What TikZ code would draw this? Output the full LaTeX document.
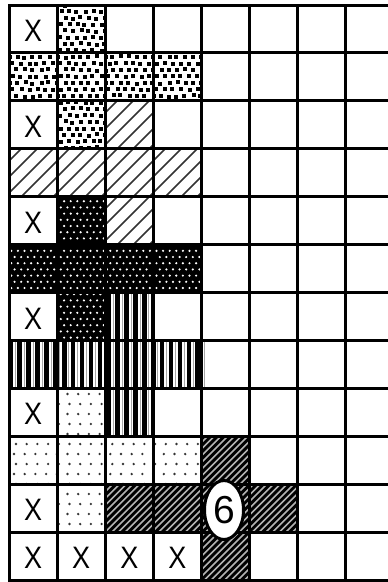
\documentclass[tikz,border=0pt]{standalone}
\usepackage{fontspec}
\setmainfont{Liberation Sans}
\usetikzlibrary{shapes.geometric}
\newcommand\cellrect[2]{({cx(#2-1)},{ry(#1-1)}) rectangle ({cx(#2)},{ry(#1)})}
\begin{document}
\begin{tikzpicture}[x=1pt,y=-1pt,
  declare function={cx(\i)=9+48.1*\i; ry(\j)=5+47.92*\j;},
  gridline/.style={line width=3pt,line cap=rect},
  xmark/.style={font=\fontsize{31}{31}\selectfont,xscale=0.87,inner sep=0pt},
  sixmark/.style={ellipse,draw,line width=3pt,fill=white,minimum width=39pt,minimum height=59pt,inner sep=0pt,font=\fontsize{39}{39}\selectfont}]
\useasboundingbox (0,0) rectangle (388,582);
\fill[white] (0,0) rectangle (388,582);
\pgfmathsetseed{7}
% Pattern A: dense square stipple
\begin{scope}
\clip \cellrect{1}{2} \cellrect{2}{1} \cellrect{2}{2} \cellrect{2}{3} \cellrect{2}{4} \cellrect{3}{2};
\foreach \r in {0,...,23}{
  \foreach \c in {0,...,25}{
    \fill ({7+8*\c+4*mod(\r,2)+1.0*rand},{3+6.5*\r+0.8*rand}) rectangle ++(4,4);
  }
}
\end{scope}
% Pattern B: light diagonal hatch
\begin{scope}
\clip \cellrect{3}{3} \cellrect{4}{1} \cellrect{4}{2} \cellrect{4}{3} \cellrect{4}{4} \cellrect{5}{3};
\foreach \c in {-160,-144,...,220}{
  \draw[line width=1.6pt,black!80] (\c,250) -- ++(260,-260);
}
\end{scope}
% Pattern C: black with white dots
\begin{scope}
\clip \cellrect{5}{2} \cellrect{6}{1} \cellrect{6}{2} \cellrect{6}{3} \cellrect{6}{4} \cellrect{7}{2};
\fill[black] (0,190) rectangle (210,350);
\foreach \r in {0,...,24}{
  \foreach \c in {0,...,32}{
    \fill[white] ({8+6.6*\c+3.3*mod(\r,2)},{195+6.2*\r}) circle (1.2);
  }
}
\end{scope}
% Pattern D: vertical stripes
\begin{scope}
\clip \cellrect{7}{3} ({cx(0)},{ry(7)}) rectangle ({cx(4)+3},{ry(8)}) \cellrect{9}{3};
\foreach \c in {0,...,24}{
  \fill[black] ({8.5+8.9*\c},285) rectangle ++(4.6,160);
  \draw[black!35,line width=0.6pt] ({8.5+8.9*\c+6.75},285) -- ++(0,160);
}
\end{scope}
% Pattern E: sparse dots
\begin{scope}
\clip \cellrect{9}{2} \cellrect{10}{1} \cellrect{10}{2} \cellrect{10}{3} \cellrect{10}{4} \cellrect{11}{2};
\foreach \r in {0,...,15}{
  \foreach \c in {0,...,19}{
    \fill[black!80] ({14+10.7*\c+2*mod(\r,2)},{394+10*\r}) circle (1.3);
  }
}
\end{scope}
% Pattern F: dark diagonal hatch
\begin{scope}
\clip \cellrect{10}{5} \cellrect{11}{3} \cellrect{11}{4} \cellrect{11}{5} \cellrect{11}{6} \cellrect{12}{5};
\fill[black] (100,430) rectangle (305,585);
\foreach \c in {-60,-53.3,...,310}{
  \draw[line width=1.6pt,white!70!black] (\c,590) -- ++(170,-170);
}
\end{scope}
% Grid
\foreach \i in {0,...,8}{
  \draw[gridline] ({cx(\i)},{ry(0)}) -- ({cx(\i)},{ry(12)});
}
\foreach \j in {0,...,12}{
  \draw[gridline] ({cx(0)},{ry(\j)}) -- (396,{ry(\j)});
}
% X marks
\node[xmark] (x1) at ({cx(0.5)},{ry(0.5)+2}) {X};
\node[xmark] (x3) at ({cx(0.5)},{ry(2.5)+2}) {X};
\node[xmark] (x5) at ({cx(0.5)},{ry(4.5)+2}) {X};
\node[xmark] (x7) at ({cx(0.5)},{ry(6.5)+2}) {X};
\node[xmark] (x9) at ({cx(0.5)},{ry(8.5)+2}) {X};
\node[xmark] (x11) at ({cx(0.5)},{ry(10.5)+2}) {X};
\node[xmark] (x12a) at ({cx(0.5)},{ry(11.5)+2}) {X};
\node[xmark] (x12b) at ({cx(1.5)},{ry(11.5)+2}) {X};
\node[xmark] (x12c) at ({cx(2.5)},{ry(11.5)+2}) {X};
\node[xmark] (x12d) at ({cx(3.5)},{ry(11.5)+2}) {X};
% Ellipse with 6
\node[sixmark] (six) at (224,510) {6};
\end{tikzpicture}
\end{document}
